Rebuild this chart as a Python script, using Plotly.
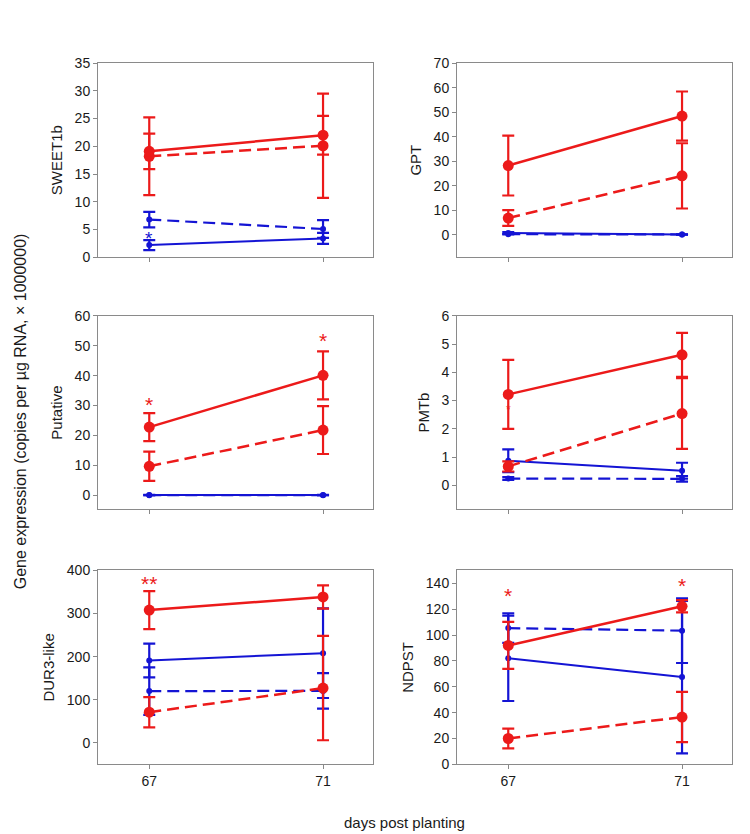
import plotly.graph_objects as go
from plotly.subplots import make_subplots

days = [67, 71]
genes = ["SWEET1b", "GPT", "Putative", "PMTb", "DUR3-like", "NDPST"]

# means and errors: red solid, red dashed, blue solid, blue dashed
sweet1b_red_solid = [19.1, 22.0];   sweet1b_red_solid_err = [3.2, 3.5]
sweet1b_red_dash = [18.2, 20.1];    sweet1b_red_dash_err = [7.0, 9.4]
sweet1b_blue_solid = [2.2, 3.4];    sweet1b_blue_solid_err = [0.9, 1.0]
sweet1b_blue_dash = [6.8, 5.1];     sweet1b_blue_dash_err = [1.4, 1.6]

gpt_red_solid = [28.2, 48.4];       gpt_red_solid_err = [12.2, 10.0]
gpt_red_dash = [6.8, 24.0];         gpt_red_dash_err = [3.2, 13.3]
gpt_blue_solid = [0.7, 0.1];        gpt_blue_solid_err = [0.4, 0.1]
gpt_blue_dash = [0.2, 0.1];         gpt_blue_dash_err = [0.1, 0.05]

putative_red_solid = [22.8, 40.1];  putative_red_solid_err = [4.7, 8.0]
putative_red_dash = [9.7, 21.8];    putative_red_dash_err = [4.9, 8.0]
putative_blue_solid = [0.1, 0.1];   putative_blue_solid_err = [0.05, 0.05]
putative_blue_dash = [0.05, 0.05];  putative_blue_dash_err = [0.02, 0.02]

pmtb_red_solid = [3.22, 4.62];      pmtb_red_solid_err = [1.22, 0.78]
pmtb_red_dash = [0.67, 2.54];       pmtb_red_dash_err = [0.18, 1.25]
pmtb_blue_solid = [0.87, 0.52];     pmtb_blue_solid_err = [0.40, 0.28]
pmtb_blue_dash = [0.24, 0.23];      pmtb_blue_dash_err = [0.05, 0.10]

dur3_red_solid = [308, 338.5];      dur3_red_solid_err = [44, 27]
dur3_red_dash = [71, 127];          dur3_red_dash_err = [35, 121]
dur3_blue_solid = [191, 208];       dur3_blue_solid_err = [39, 104]
dur3_blue_dash = [120, 120.5];      dur3_blue_dash_err = [55, 41]

ndpst_red_solid = [92, 122.3];      ndpst_red_solid_err = [18.2, 4.8]
ndpst_red_dash = [20, 36.6];        ndpst_red_dash_err = [7.7, 19.4]
ndpst_blue_solid = [82, 67.5];      ndpst_blue_solid_err = [33, 59]
ndpst_blue_dash = [105.4, 103.4];   ndpst_blue_dash_err = [11.5, 25]

# significance marks: (panel index, day, value, text, colour key, size)
sig_panel = [0, 2, 2, 3, 4, 5, 5]
sig_day = [67, 67, 71, 67, 67, 67, 71]
sig_value = [4.3, 31.9, 53.5, 2.83, 382, 134.7, 142.3]
sig_text = ["*", "*", "*", "*", "**", "*", "*"]
sig_color = ["blue", "red", "red", "red", "red", "red", "red"]
sig_size = [19, 21, 21, 12, 21, 21, 21]

y_ranges = [[0, 35], [-9.2, 70], [-4.7, 60], [-0.85, 6], [-50, 400], [0, 150]]
y_dticks = [5, 10, 10, 1, 100, 20]

RED = "#ec1a1a"
BLUE = "#1414d4"
colors = {"red": RED, "blue": BLUE}

panels = [
    (sweet1b_red_solid, sweet1b_red_solid_err, sweet1b_red_dash, sweet1b_red_dash_err,
     sweet1b_blue_solid, sweet1b_blue_solid_err, sweet1b_blue_dash, sweet1b_blue_dash_err),
    (gpt_red_solid, gpt_red_solid_err, gpt_red_dash, gpt_red_dash_err,
     gpt_blue_solid, gpt_blue_solid_err, gpt_blue_dash, gpt_blue_dash_err),
    (putative_red_solid, putative_red_solid_err, putative_red_dash, putative_red_dash_err,
     putative_blue_solid, putative_blue_solid_err, putative_blue_dash, putative_blue_dash_err),
    (pmtb_red_solid, pmtb_red_solid_err, pmtb_red_dash, pmtb_red_dash_err,
     pmtb_blue_solid, pmtb_blue_solid_err, pmtb_blue_dash, pmtb_blue_dash_err),
    (dur3_red_solid, dur3_red_solid_err, dur3_red_dash, dur3_red_dash_err,
     dur3_blue_solid, dur3_blue_solid_err, dur3_blue_dash, dur3_blue_dash_err),
    (ndpst_red_solid, ndpst_red_solid_err, ndpst_red_dash, ndpst_red_dash_err,
     ndpst_blue_solid, ndpst_blue_solid_err, ndpst_blue_dash, ndpst_blue_dash_err),
]

W, H = 750, 834
fig = make_subplots(rows=3, cols=2)

x_doms = [[90 / W, 365 / W], [449 / W, 724 / W]]
y_doms = [[1 - 246 / H, 1 - 48 / H], [1 - 503 / H, 1 - 305.7 / H], [1 - 763 / H, 1 - 565.3 / H]]

DASH = "12px,6px"
FONT = "Arial, Liberation Sans, sans-serif"


def add_series(row, col, y, err, color, dash, msize, lw):
    fig.add_trace(go.Scatter(
        x=days, y=y, mode="lines+markers",
        line=dict(color=color, width=lw, dash=dash),
        marker=dict(color=color, size=msize),
        error_y=dict(type="data", array=err, visible=True, color=color,
                     thickness=2.2, width=6),
        showlegend=False, hoverinfo="skip"), row=row, col=col)


for i, p in enumerate(panels):
    row, col = i // 2 + 1, i % 2 + 1
    rs, rse, rd, rde, bs, bse, bd, bde = p
    add_series(row, col, bd, bde, BLUE, DASH, 6, 2.2)
    add_series(row, col, bs, bse, BLUE, "solid", 6, 2.0)
    add_series(row, col, rd, rde, RED, DASH, 11, 2.5)
    add_series(row, col, rs, rse, RED, "solid", 11, 2.5)

    fig.update_xaxes(
        domain=x_doms[col - 1], range=[65.82, 72.15],
        tickvals=days, ticktext=[str(d) for d in days] if row == 3 else ["", ""],
        ticks="outside", ticklen=4, tickcolor="#888888",
        showline=True, mirror=True, linecolor="#8a8a8a", linewidth=1,
        showgrid=False, zeroline=False,
        tickfont=dict(family=FONT, size=14, color="#1a1a1a"),
        row=row, col=col)
    fig.update_yaxes(
        domain=y_doms[row - 1], range=y_ranges[i], dtick=y_dticks[i], tick0=0,
        ticks="outside", ticklen=4, tickcolor="#888888",
        showline=True, mirror=True, linecolor="#8a8a8a", linewidth=1,
        showgrid=False, zeroline=False,
        tickfont=dict(family=FONT, size=14, color="#1a1a1a"),
        title=dict(text=genes[i], standoff=8,
                   font=dict(family=FONT, size=15, color="#1a1a1a")),
        row=row, col=col)

axis_names = ["", "2", "3", "4", "5", "6"]
for k in range(len(sig_panel)):
    a = axis_names[sig_panel[k]]
    fig.add_annotation(
        x=sig_day[k], y=sig_value[k], xref="x" + a, yref="y" + a,
        text=sig_text[k], showarrow=False, yanchor="middle", yshift=-5,
        font=dict(family=FONT, size=sig_size[k], color=colors[sig_color[k]]))

fig.add_annotation(
    x=12 / W, y=1 - 403 / H, xref="paper", yref="paper",
    text="Gene expression (copies per µg RNA, × 1000000)", textangle=-90,
    showarrow=False, xanchor="center", yanchor="middle",
    font=dict(family=FONT, size=16, color="#1a1a1a"))
fig.add_annotation(
    x=396 / W, y=1 - 822 / H, xref="paper", yref="paper",
    text="days post planting", showarrow=False, xanchor="center", yanchor="middle",
    font=dict(family=FONT, size=15, color="#1a1a1a"))

fig.update_layout(
    width=W, height=H, margin=dict(l=0, r=0, t=0, b=0),
    paper_bgcolor="white", plot_bgcolor="white", showlegend=False)

fig.write_html("out.html")
